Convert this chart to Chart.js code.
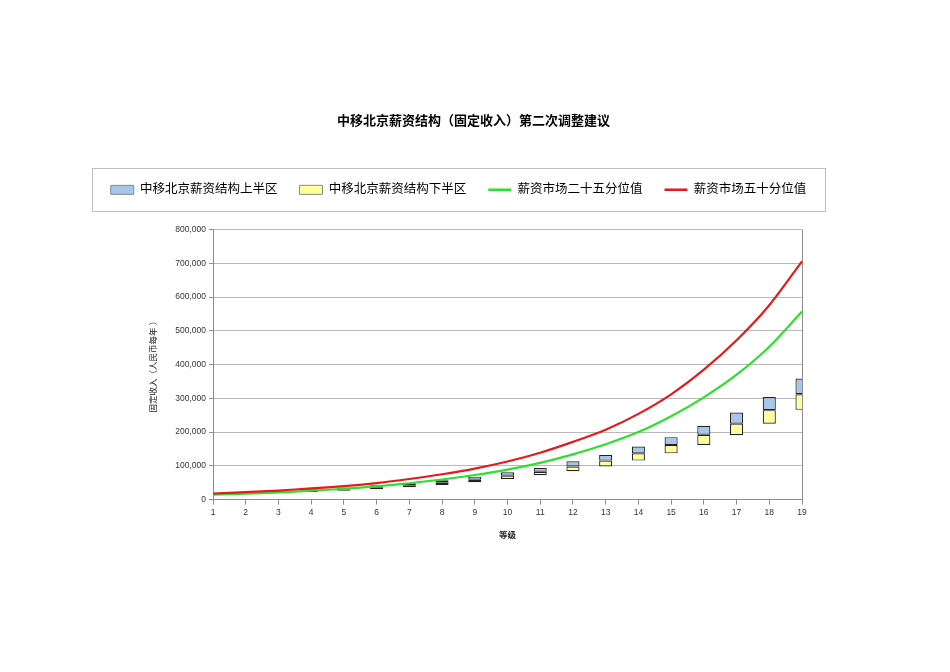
<!DOCTYPE html>
<html>
<head>
<meta charset="utf-8">
<title>中移北京薪资结构</title>
<script src="https://cdn.jsdelivr.net/npm/chart.js@4.4.1/dist/chart.umd.min.js"></script>
<style>
  body { margin: 0; background: #fff; }
  canvas { display: block; }
</style>
</head>
<body>
<canvas id="grafico" width="950" height="672"></canvas>
<script>
// datos (RMB por año)
const grados = ['1','2','3','4','5','6','7','8','9','10','11','12','13','14','15','16','17','18','19'];
const estructuraBajo = [14000,16500,19500,22500,26500,31000,36500,43500,51500,61000,72000,84000,98000,115500,137000,162000,190500,225000,266000];
const estructuraMedio = [16500,19000,22500,26500,31000,36500,42500,50000,59000,71000,82500,98000,115500,137000,162000,192000,225000,265000,312000];
const estructuraAlto = [19000,22000,26000,30500,36000,42500,48500,57500,68000,81000,94000,113500,132000,157000,185000,219000,258000,304000,359000];
const mercadoP25 = [14500,17500,21500,26500,32000,39500,48500,59500,73000,89000,109000,134000,164000,200000,247000,303000,370000,453000,557000];
const mercadoP50 = [18000,22000,27000,33000,40000,49000,61000,75000,92000,113000,139000,171000,207000,254000,312000,385000,472000,576000,706000];
const ticksY = [0,100000,200000,300000,400000,500000,600000,700000,800000];

const fuente = 'Liberation Sans, "Noto Sans CJK SC", sans-serif';
const tamLeyenda = 12.5;

// barras flotantes: [inicio, fin]
const mitadSuperior = grados.map((g, i) => [estructuraMedio[i], estructuraAlto[i]]);
const mitadInferior = grados.map((g, i) => [estructuraBajo[i], estructuraMedio[i]]);

// la leyenda es mas ancha que el area del grafico, con caja alrededor
const cajaLeyenda = {
    id: 'cajaLeyenda',
    beforeLayout(chart) {
        const lg = chart.legend;
        if (lg && !lg.__ancho) {
            const actualizar = lg.update.bind(lg);
            lg.update = (mw, mh, m) => {
                actualizar(800, mh, m);
                lg.height += 23.5; // espacio hasta el area del grafico
            };
            lg.__ancho = true;
        }
    },
    afterLayout(chart) {
        chart.legend.left = 77;
        chart.legend.right = 840;
    },
    afterDraw(chart) {
        const lg = chart.legend;
        const op = lg.options.labels;
        const centro = lg.top + op.padding + tamLeyenda / 2;
        const ctx = chart.ctx;
        ctx.save();
        ctx.strokeStyle = '#bdbdbd';
        ctx.lineWidth = 1;
        ctx.strokeRect(92.5, Math.round(centro - 21.5) + 0.5, 733, 43);
        ctx.restore();
    }
};

new Chart(document.getElementById('grafico'), {
    type: 'bar',
    data: {
        labels: grados,
        datasets: [
            {
                label: '中移北京薪资结构上半区',
                data: mitadSuperior,
                backgroundColor: '#a7c6ea',
                borderColor: '#222222',
                borderWidth: 1.2,
                borderSkipped: false,
                grouped: false,
                barPercentage: 0.4,
                categoryPercentage: 1,
                order: 2
            },
            {
                label: '中移北京薪资结构下半区',
                data: mitadInferior,
                backgroundColor: '#ffff9c',
                borderColor: '#222222',
                borderWidth: 1.2,
                borderSkipped: false,
                grouped: false,
                barPercentage: 0.4,
                categoryPercentage: 1,
                order: 2
            },
            {
                type: 'line',
                label: '薪资市场二十五分位值',
                data: mercadoP25,
                borderColor: '#2ee02e',
                borderWidth: 2.2,
                pointRadius: 0,
                tension: 0.3,
                fill: false,
                order: 1
            },
            {
                type: 'line',
                label: '薪资市场五十分位值',
                data: mercadoP50,
                borderColor: '#e51b1b',
                borderWidth: 2.2,
                pointRadius: 0,
                tension: 0.3,
                fill: false,
                order: 0
            }
        ]
    },
    options: {
        responsive: false,
        animation: false,
        layout: { padding: { top: 100, left: 145, right: 148, bottom: 127 } },
        plugins: {
            title: {
                display: true,
                text: '中移北京薪资结构（固定收入）第二次调整建议',
                color: '#000',
                font: { family: fuente, size: 13, weight: 'bold' },
                padding: { top: 14, bottom: 32 }
            },
            legend: {
                display: true,
                position: 'top',
                labels: {
                    color: '#000',
                    font: { family: fuente, size: tamLeyenda },
                    padding: 22,
                    usePointStyle: true,
                    pointStyleWidth: 23,
                    boxHeight: 9,
                    generateLabels: (chart) => chart.data.datasets.map((ds, i) => {
                        const esLinea = ds.type === 'line';
                        return {
                            text: ds.label,
                            fillStyle: esLinea ? ds.borderColor : ds.backgroundColor,
                            strokeStyle: esLinea ? ds.borderColor : '#8a8a8a',
                            lineWidth: esLinea ? 2.5 : 1,
                            pointStyle: esLinea ? 'line' : 'rect',
                            hidden: false,
                            datasetIndex: i
                        };
                    })
                }
            },
            tooltip: { enabled: false }
        },
        scales: {
            x: {
                type: 'category',
                offset: false,
                grid: {
                    offset: false,
                    drawOnChartArea: true,
                    color: (c) => c.index === grados.length - 1 ? '#8c8c8c' : 'rgba(0,0,0,0)',
                    tickColor: '#8c8c8c',
                    tickLength: 5
                },
                border: { color: '#8c8c8c', width: 1 },
                ticks: {
                    color: '#333',
                    font: { family: fuente, size: 8.5 },
                    padding: 3,
                    maxRotation: 0,
                    autoSkip: false
                },
                title: {
                    display: true,
                    text: '等级',
                    color: '#222',
                    font: { family: fuente, size: 8.5, weight: 'bold' },
                    padding: { top: 10, bottom: 4 }
                }
            },
            y: {
                min: 0,
                max: 800000,
                afterBuildTicks: (eje) => { eje.ticks = ticksY.map(v => ({ value: v })); },
                afterFit: (eje) => { eje.width = 68; },
                grid: {
                    color: '#b8b8b8',
                    tickColor: '#8c8c8c',
                    tickLength: 4
                },
                border: { color: '#8c8c8c', width: 1 },
                ticks: {
                    color: '#333',
                    font: { family: fuente, size: 8.5 },
                    padding: 3,
                    callback: (v) => Number(v).toLocaleString('en-US')
                },
                title: {
                    display: true,
                    text: '固定收入（人民币每年 ）',
                    color: '#222',
                    font: { family: fuente, size: 8.5 },
                    padding: { top: 4, bottom: 4 }
                }
            }
        }
    },
    plugins: [cajaLeyenda]
});
</script>
</body>
</html>
